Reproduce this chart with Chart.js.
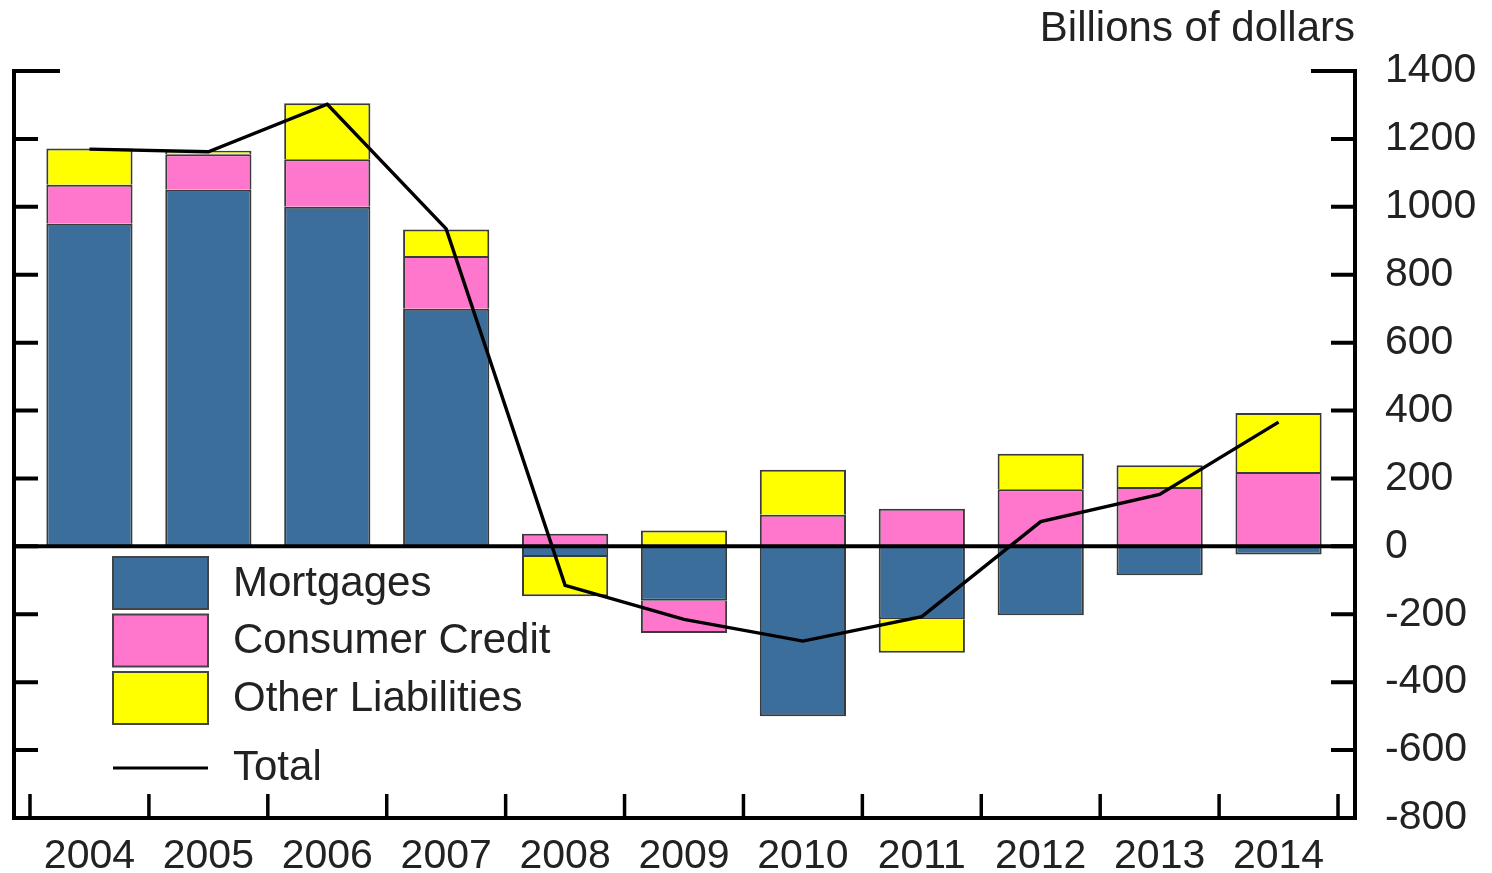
<!DOCTYPE html>
<html>
<head>
<meta charset="utf-8">
<script src="https://cdn.jsdelivr.net/npm/chart.js@4.4.1/dist/chart.umd.min.js"></script>
<style>
  html, body { margin: 0; padding: 0; background: #fff; }
  canvas { display: block; }
</style>
</head>
<body>
<canvas id="chart" width="1492" height="873"></canvas>
<script>
// values in billions of dollars
const years = ["2004", "2005", "2006", "2007", "2008", "2009", "2010", "2011", "2012", "2013", "2014"];
const mortgages = [950, 1050, 1000, 700, -31, -160, -500, -215, -203, -85, -24];
const consumerCredit = [115, 105, 140, 155, 37, -95, 93, 111, 168, 175, 219];
const otherLiabilities = [107, 10, 165, 78, -116, 47, 133, -98, 105, 64, 174];
const total = [1170, 1162, 1302, 935, -115, -215, -279, -207, 73, 153, 366];
const yTicks = [-800, -600, -400, -200, 0, 200, 400, 600, 800, 1000, 1200, 1400];
const unitLabel = "Billions of dollars";

const FONT = "'Liberation Sans', Arial, sans-serif";
const TEXT = "#222";

// axis frame, inward ticks, zero line, unit label and legend
const framePlugin = {
  id: "frame",
  afterDatasetsDraw(chart) {
    const c = chart.ctx, ys = chart.scales.y, xs = chart.scales.x;
    const x0 = chart.chartArea.left - 16, x1 = chart.chartArea.right + 17;
    const top = ys.getPixelForValue(yTicks[yTicks.length - 1]);
    const bot = ys.getPixelForValue(yTicks[0]);
    c.save();
    c.strokeStyle = "#000";
    c.lineWidth = 4;
    c.lineCap = "butt";
    c.beginPath();
    c.moveTo(x0, top - 2); c.lineTo(x0, bot);
    c.lineTo(x1, bot); c.lineTo(x1, top - 2);
    c.stroke();
    // y ticks on both sides
    yTicks.slice(1).forEach((v, i, arr) => {
      const y = ys.getPixelForValue(v);
      const isTop = i === arr.length - 1;
      c.beginPath();
      c.moveTo(x0, y); c.lineTo(x0 + (isTop ? 46 : 24), y);
      c.moveTo(x1, y); c.lineTo(x1 - (isTop ? 44 : 24), y);
      c.stroke();
    });
    // zero line
    const y0 = ys.getPixelForValue(0);
    c.beginPath(); c.moveTo(x0, y0); c.lineTo(x1, y0); c.stroke();
    // x ticks between categories
    c.lineWidth = 3.5;
    const n = years.length;
    for (let i = 0; i <= n; i++) {
      let x;
      if (i === 0) x = xs.left;
      else if (i === n) x = xs.right;
      else x = (xs.getPixelForValue(i - 1) + xs.getPixelForValue(i)) / 2;
      c.beginPath(); c.moveTo(x, bot); c.lineTo(x, bot - 24); c.stroke();
    }
    // unit label
    c.fillStyle = TEXT;
    c.font = "42px " + FONT;
    c.textAlign = "right";
    c.textBaseline = "alphabetic";
    c.fillText(unitLabel, x1, 41);
    // legend
    c.textAlign = "left";
    c.textBaseline = "middle";
    let k = 0;
    chart.data.datasets.forEach(d => {
      if (d.type === "line") {
        const ly = 768;
        c.strokeStyle = d.borderColor;
        c.lineWidth = 3;
        c.beginPath(); c.moveTo(113, ly); c.lineTo(208, ly); c.stroke();
        c.fillStyle = TEXT;
        c.fillText(d.label, 233, ly);
      } else {
        const by = 557 + k * 57.5;
        k++;
        c.fillStyle = d.backgroundColor;
        c.fillRect(113, by, 95, 52);
        c.strokeStyle = "#444";
        c.lineWidth = 2;
        c.strokeRect(113, by, 95, 52);
        c.fillStyle = TEXT;
        c.fillText(d.label, 233, by + 27);
      }
    });
    c.restore();
  }
};

const barStyle = { borderColor: "#3a3a3a", borderWidth: 2, barPercentage: 0.725, categoryPercentage: 1, stack: "parts" };

new Chart(document.getElementById("chart").getContext("2d"), {
  data: {
    labels: years,
    datasets: [
      { type: "line", label: "Total", data: total, borderColor: "#000", borderWidth: 3.4, pointRadius: 0, tension: 0, stack: "total", order: 0 },
      Object.assign({ type: "bar", label: "Mortgages", data: mortgages, backgroundColor: "#3c6e9c", order: 1 }, barStyle),
      Object.assign({ type: "bar", label: "Consumer Credit", data: consumerCredit, backgroundColor: "#ff77cc", order: 1 }, barStyle),
      Object.assign({ type: "bar", label: "Other Liabilities", data: otherLiabilities, backgroundColor: "#ffff00", order: 1 }, barStyle)
    ]
  },
  options: {
    responsive: false,
    animation: false,
    devicePixelRatio: 1,
    layout: { padding: { left: 30, top: 71, right: 0, bottom: 0 } },
    plugins: { legend: { display: false }, tooltip: { enabled: false } },
    scales: {
      x: {
        stacked: true,
        offset: true,
        grid: { display: false, drawTicks: false },
        border: { display: false },
        ticks: { color: TEXT, font: { family: FONT, size: 41 }, padding: 14, maxRotation: 0, autoSkip: false },
        afterFit: s => { s.height = 55; }
      },
      y: {
        position: "right",
        stacked: true,
        min: yTicks[0],
        max: yTicks[yTicks.length - 1],
        grid: { display: false, drawTicks: false },
        border: { display: false },
        ticks: { stepSize: 200, color: TEXT, font: { family: FONT, size: 41 }, padding: 47, callback: v => String(v) },
        afterFit: s => { s.width = 154; s.paddingTop = 0; s.paddingBottom = 0; }
      }
    }
  },
  plugins: [framePlugin]
});
</script>
</body>
</html>
